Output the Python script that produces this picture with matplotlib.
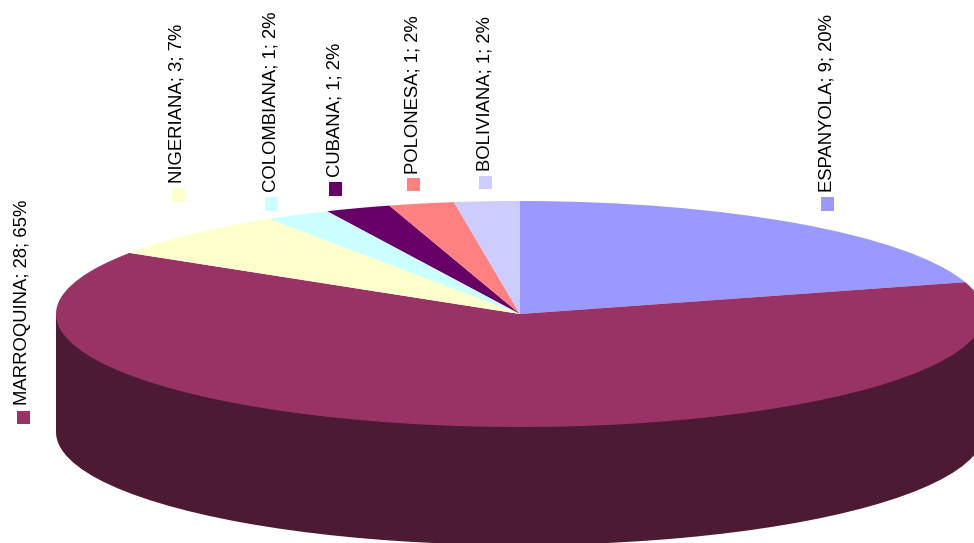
import matplotlib
matplotlib.use("Agg")
import matplotlib.pyplot as plt
from matplotlib.patches import Rectangle

categories = ["ESPANYOLA", "MARROQUINA", "NIGERIANA", "COLOMBIANA", "CUBANA", "POLONESA", "BOLIVIANA"]
values = [9, 28, 3, 1, 1, 1, 1]
percents = [20, 65, 7, 2, 2, 2, 2]
colors = ["#9999FF", "#993366", "#FFFFCC", "#CCFFFF", "#660066", "#FF8080", "#CCCCFF"]
side_color = "#4C1A33"

W, H = 974, 543
CX, CY, RX, RY, DEPTH = 520, 314, 464, 113, 118
# label layout in pixels: text centre x, text bottom y, key centre x, key centre y
label_x = [827, 23, 177, 271, 335, 413, 485]
label_y = [192, 405, 183, 192, 177, 174, 171]
key_x = [827, 23, 178, 271, 335, 413, 485]
key_y = [204, 417, 195, 204, 189, 185, 183]
KEY = 13

plt.rcParams["font.family"] = ["Liberation Sans", "DejaVu Sans"]
fig = plt.figure(figsize=(W / 100, H / 100), dpi=100, facecolor="white")
ax = fig.add_axes([0, 0, 1, 1])

d = DEPTH / RY
# bottom of the disc and its visible side wall
ax.pie(values, colors=[side_color] * len(values), startangle=90, counterclock=False,
       center=(0, -d), wedgeprops={"linewidth": 0})
ax.add_patch(Rectangle((-1, -d), 2, d, facecolor=side_color, edgecolor="none"))
# top of the disc
ax.pie(values, colors=colors, startangle=90, counterclock=False,
       wedgeprops={"linewidth": 0}, radius=1)

ax.set_aspect("auto")
ax.set_xlim((0 - CX) / RX, (W - CX) / RX)
ax.set_ylim((CY - H) / RY, CY / RY)
ax.axis("off")

for name, v, p, lx, ly, kx, ky, c in zip(categories, values, percents, label_x, label_y, key_x, key_y, colors):
    fig.text(lx / W, 1 - ly / H, f"{name}; {v}; {p}%", rotation=90, ha="center", va="bottom",
             fontsize=13.3, color="black")
    fig.add_artist(Rectangle(((kx - KEY / 2) / W, 1 - (ky + KEY / 2) / H), KEY / W, KEY / H,
                             transform=fig.transFigure, facecolor=c, edgecolor="none"))

fig.savefig("out.png", dpi=100)
